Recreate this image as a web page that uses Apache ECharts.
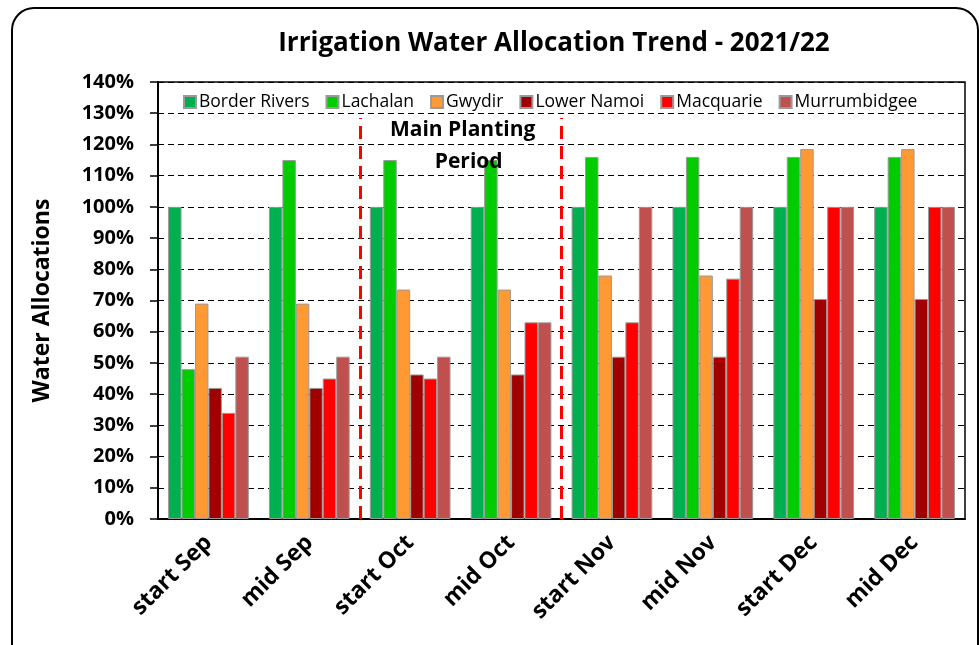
<!DOCTYPE html>
<html>
<head>
<meta charset="utf-8">
<script src="https://cdn.jsdelivr.net/npm/echarts@6/dist/echarts.min.js"></script>
<style>
  html, body { margin: 0; padding: 0; background: #fff; }
  #chart { width: 979px; height: 645px; }
</style>
</head>
<body>
<div id="chart"></div>
<script>
// periodos (eje x)
const periodos = ["start Sep", "mid Sep", "start Oct", "mid Oct", "start Nov", "mid Nov", "start Dec", "mid Dec"];
const ticksY = ["0%", "10%", "20%", "30%", "40%", "50%", "60%", "70%", "80%", "90%", "100%", "110%", "120%", "130%", "140%"];

// valles - % de asignacion
const borderRivers = [100, 100, 100, 100, 100, 100, 100, 100];
const lachalan = [48, 115, 115, 115, 116, 116, 116, 116];
const gwydir = [69, 69, 73.5, 73.5, 78, 78, 118.5, 118.5];
const lowerNamoi = [42, 42, 46.3, 46.3, 52, 52, 70.5, 70.5];
const macquarie = [34, 45, 45, 63, 63, 77, 100, 100];
const murrumbidgee = [52, 52, 52, 63, 100, 100, 100, 100];

// limites del periodo de siembra (en unidades de categoria)
const limitesSiembra = [2, 4];

const series = [
  { name: "Border Rivers", data: borderRivers, color: "#00B050" },
  { name: "Lachalan", data: lachalan, color: "#00CC00" },
  { name: "Gwydir", data: gwydir, color: "#FF9933" },
  { name: "Lower Namoi", data: lowerNamoi, color: "#A00000" },
  { name: "Macquarie", data: macquarie, color: "#FF0000" },
  { name: "Murrumbidgee", data: murrumbidgee, color: "#C0504D" },
];

const fuente = "'Open Sans', 'DejaVu Sans', sans-serif";
const chart = echarts.init(document.getElementById("chart"));

const option = {
  animation: false,
  backgroundColor: "#fff",
  textStyle: { fontFamily: fuente },
  title: {
    text: "Irrigation Water Allocation Trend - 2021/22",
    left: 549,
    textAlign: "center",
    top: 26,
    textStyle: { fontSize: 26, fontWeight: "bold", color: "#000", fontFamily: fuente },
  },
  graphic: [
    {
      type: "rect",
      shape: { x: 12, y: 8, width: 966, height: 680, r: 22 },
      style: { fill: null, stroke: "#000", lineWidth: 2 },
      silent: true,
      z: 0,
    },
  ],
  legend: {
    top: 88,
    left: 178,
    itemWidth: 12,
    itemHeight: 12,
    itemGap: 16,
    icon: "rect",
    textStyle: { fontSize: 17.5, color: "#000", fontFamily: fuente, padding: [0, 0, 0, -2] },
    data: series.map((s) => s.name),
  },
  grid: { left: 158, right: 14, top: 82, bottom: 126, show: true, borderColor: "#000", borderWidth: 1.5 },
  xAxis: [
    {
      type: "category",
      data: periodos,
      axisLine: { lineStyle: { color: "#000", width: 2 } },
      axisTick: { length: 9, lineStyle: { color: "#000", width: 1.5 } },
      axisLabel: {
        rotate: 45,
        margin: 20,
        fontSize: 23,
        fontWeight: "bold",
        color: "#000",
        fontFamily: fuente,
      },
    },
    { type: "value", min: 0, max: 8, show: false },
  ],
  yAxis: {
    type: "value",
    min: 0,
    max: 140,
    interval: 10,
    name: "Water Allocations",
    nameLocation: "middle",
    nameGap: 104,
    nameTextStyle: { fontSize: 23, fontWeight: "bold", color: "#000", fontFamily: fuente },
    axisLine: { show: true, lineStyle: { color: "#000", width: 2 } },
    axisTick: { show: true, length: 8, lineStyle: { color: "#000", width: 1.5 } },
    axisLabel: {
      fontSize: 20,
      fontWeight: "bold",
      color: "#000",
      margin: 24,
      fontFamily: fuente,
      formatter: (v) => ticksY[Math.round(v / 10)],
    },
    splitLine: { show: true, lineStyle: { color: "#000", type: [6, 4], width: 1.2 } },
  },
  series: [
    ...series.map((s) => ({
      name: s.name,
      type: "bar",
      data: s.data,
      barGap: "0%",
      barCategoryGap: "20%",
      itemStyle: { color: s.color, borderColor: "#9a9a9a", borderWidth: 1 },
      emphasis: { disabled: true },
    })),
    {
      name: "periodo",
      type: "line",
      xAxisIndex: 1,
      yAxisIndex: 0,
      data: [],
      silent: true,
      z: 5,
      markLine: {
        symbol: "none",
        silent: true,
        label: { show: false },
        lineStyle: { color: "#FF0000", type: [13, 7], width: 3 },
        data: limitesSiembra.map((x) => [{ coord: [x, 0] }, { coord: [x, 128.5] }]),
      },
      markPoint: {
        symbol: "rect",
        symbolSize: 0,
        silent: true,
        label: {
          show: true,
          color: "#000",
          fontSize: 21,
          fontWeight: "bold",
          fontFamily: fuente,
          formatter: (p) => p.name,
        },
        data: [
          { name: "Main Planting", coord: [3.02, 124.6] },
          { name: "Period", coord: [3.08, 114.4] },
        ],
      },
    },
  ],
};

chart.setOption(option);
</script>
</body>
</html>
